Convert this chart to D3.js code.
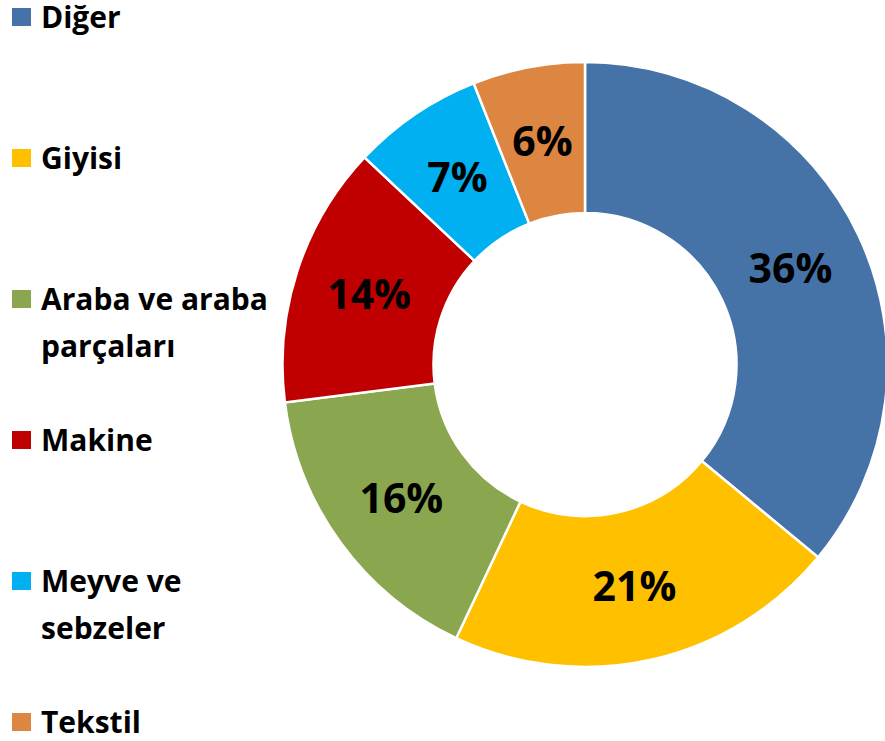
<!DOCTYPE html>
<html>
<head>
<meta charset="utf-8">
<script src="https://cdn.jsdelivr.net/npm/d3@7"></script>
<style>
  body { margin: 0; background: #fff; }
  text { font-family: "Open Sans", sans-serif; font-weight: bold; fill: #000; }
</style>
</head>
<body>
<div class="chart"></div>
<script>
var width = 885,
    height = 741;

// data
var categories = ["Diğer", "Giyisi", "Araba ve araba parçaları", "Makine", "Meyve ve sebzeler", "Tekstil"];
var legendLines = [["Diğer"], ["Giyisi"], ["Araba ve araba", "parçaları"], ["Makine"], ["Meyve ve", "sebzeler"], ["Tekstil"]];
var shares = [36, 21, 16, 14, 7, 6];
var colors = ["#4673a7", "#ffc000", "#8aa64f", "#c00000", "#00b0f0", "#dc8642"];

var cx = 585, cy = 364.5,
    outer = 302.5, inner = 151.5;

var color = d3.scaleOrdinal()
    .domain(categories)
    .range(colors);

var svg = d3.select(".chart").append("svg")
    .attr("width", width)
    .attr("height", height);

var pie = d3.pie()
    .sort(null)
    .value(function(d) { return d.value; });

var arc = d3.arc()
    .innerRadius(inner)
    .outerRadius(outer);

var data = categories.map(function(c, i) { return {name: c, value: shares[i]}; });

var g = svg.append("g")
    .attr("transform", "translate(" + cx + "," + cy + ")");

var slices = g.selectAll(".slice")
    .data(pie(data))
    .enter().append("g")
    .attr("class", "slice");

slices.append("path")
    .attr("d", arc)
    .style("fill", function(d) { return color(d.data.name); })
    .style("stroke", "#fff")
    .style("stroke-width", 2.5);

slices.append("text")
    .attr("transform", function(d) { return "translate(" + arc.centroid(d) + ")"; })
    .attr("text-anchor", "middle")
    .attr("dy", "0.36em")
    .style("font-size", "41px")
    .text(function(d) { return d.data.value + "%"; });

// legend
var legend = svg.selectAll(".legend")
    .data(categories)
    .enter().append("g")
    .attr("class", "legend")
    .attr("transform", function(d, i) { return "translate(0," + (28 + i * 141) + ")"; });

legend.append("rect")
    .attr("x", 12)
    .attr("y", -20)
    .attr("width", 19)
    .attr("height", 18)
    .style("fill", function(d) { return color(d); });

legend.append("text")
    .attr("x", 41)
    .style("font-size", "30px")
    .each(function(d, i) {
        var t = d3.select(this);
        legendLines[i].forEach(function(line, j) {
            t.append("tspan")
                .attr("x", 41)
                .attr("y", j * 47)
                .text(line);
        });
    });
</script>
</body>
</html>
